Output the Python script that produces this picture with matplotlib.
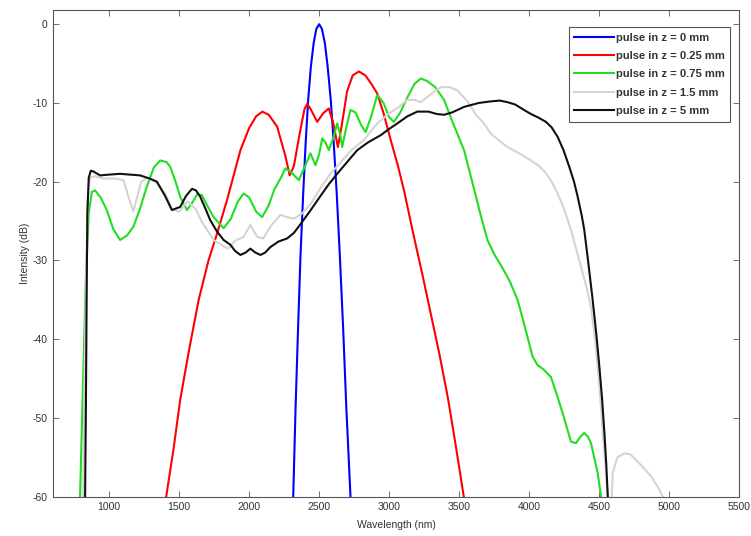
import matplotlib
matplotlib.use("Agg")
import matplotlib.pyplot as plt

plt.rcParams["font.family"] = ["Liberation Sans", "DejaVu Sans"]
plt.rcParams["axes.unicode_minus"] = False

# pulse in z = 0 mm
wl_0 = [2315, 2332, 2350, 2367, 2386, 2404, 2422, 2441, 2461, 2480, 2500,
        2520, 2541, 2561, 2583, 2604, 2626, 2648, 2671, 2694, 2724]
db_0 = [-60, -48.6, -38.4, -29.4, -21.6, -15, -9.6, -5.4, -2.4, -0.6, 0,
        -0.6, -2.4, -5.4, -9.6, -15, -21.6, -29.4, -38.4, -48.6, -60]

# pulse in z = 0.25 mm
wl_025 = [1408, 1460, 1508, 1570, 1640, 1710, 1771, 1843, 1938, 2000, 2050, 2095,
          2140, 2200, 2260, 2290, 2320, 2360, 2395, 2415, 2440, 2486, 2530, 2569,
          2600, 2634, 2660, 2700, 2740, 2784, 2830, 2870, 2915, 2960, 3011, 3060,
          3106, 3177, 3240, 3300, 3360, 3420, 3480, 3533]
db_025 = [-60, -54, -47.7, -41.5, -35, -30, -26.6, -22.3, -16, -13.2, -11.7, -11.1,
          -11.5, -13, -16.8, -19.2, -18, -14, -10.8, -10.1, -10.8, -12.4, -11.3, -10.7,
          -12.5, -15.6, -13, -8.5, -6.5, -6.0, -6.5, -7.5, -8.8, -11.3, -14.7, -17.8,
          -21.1, -27, -32, -37, -42, -47.5, -54, -60]

# pulse in z = 0.75 mm
wl_075 = [793, 815, 835, 855, 877, 900, 940, 984, 1030, 1079, 1130, 1174, 1220,
          1270, 1320, 1365, 1410, 1437, 1475, 1508, 1556, 1600, 1630, 1663, 1700,
          1747, 1818, 1870, 1920, 1961, 2000, 2050, 2093, 2140, 2180, 2224, 2260,
          2300, 2355, 2400, 2438, 2474, 2500, 2522, 2545, 2569, 2600, 2629, 2650,
          2665, 2695, 2724, 2760, 2800, 2832, 2870, 2915, 2960, 3000, 3034, 3080,
          3130, 3180, 3225, 3270, 3330, 3392, 3450, 3535, 3600, 3650, 3702, 3750,
          3798, 3860, 3917, 3970, 4024, 4060, 4100, 4155, 4200, 4239, 4298, 4334,
          4365, 4393, 4420, 4441, 4470, 4489, 4513]
db_075 = [-60, -45, -32, -24, -21.3, -21.1, -22, -23.6, -26, -27.4, -26.8, -25.7, -23.5,
          -20.6, -18.2, -17.3, -17.5, -18.1, -20, -21.9, -23.6, -22.5, -21.6, -21.7, -23,
          -24.5, -25.9, -24.7, -22.5, -21.5, -22, -23.8, -24.5, -23, -21, -19.6, -18.3,
          -18.8, -19.8, -18, -16.4, -17.9, -16.5, -14.5, -15, -16, -14.5, -12.6, -14,
          -15.6, -13, -10.9, -11.2, -12.8, -13.7, -11.8, -9.0, -10, -11.8, -12.4, -11.2,
          -9.3, -7.6, -6.9, -7.2, -8, -9.6, -12.3, -16, -20.5, -24, -27.4, -29.2,
          -30.6, -32.6, -35, -38.5, -42.2, -43.3, -43.8, -44.8, -47.2, -49.4, -53, -53.2,
          -52.4, -51.9, -52.4, -53.2, -55.5, -57, -60]

# pulse in z = 1.5 mm
wl_15 = [815, 825, 838, 850, 865, 900, 960, 1040, 1103, 1140, 1174, 1200, 1230,
         1270, 1330, 1400, 1449, 1500, 1560, 1620, 1660, 1699, 1747, 1800, 1850,
         1900, 1961, 2009, 2057, 2100, 2160, 2224, 2270, 2319, 2380, 2440, 2510,
         2580, 2650, 2730, 2820, 2915, 3000, 3070, 3130, 3180, 3225, 3290, 3368,
         3430, 3487, 3560, 3620, 3677, 3726, 3780, 3845, 3930, 4012, 4070, 4119,
         4160, 4203, 4250, 4298, 4335, 4370, 4410, 4441, 4470, 4489, 4510, 4525,
         4545, 4560, 4572, 4585, 4596, 4630, 4679, 4720, 4751, 4810, 4870, 4920, 4954]
db_15 = [-60, -45, -30, -21.5, -19.5, -19.3, -19.6, -19.6, -19.8, -22, -23.8, -22, -20,
         -19.5, -20, -21.5, -23.5, -23.8, -22.5, -23.5, -25, -26.1, -27.4, -28, -28.5,
         -27.5, -27, -25.5, -27, -27.2, -25.5, -24.2, -24.5, -24.7, -24, -22.8, -20.8,
         -19, -17.6, -16, -14.7, -12.6, -11.3, -10.5, -9.6, -9.6, -9.9, -9, -8,
         -8, -8.4, -9.8, -11.5, -12.6, -13.9, -14.7, -15.6, -16.4, -17.3, -18, -18.9,
         -20, -21.5, -23.5, -26.1, -28.5, -30.8, -33.5, -35.9, -40, -43.5, -48, -51.9,
         -56, -59.6, -62, -62, -57, -55, -54.5, -54.6, -55.1, -56.2, -57.4, -58.8, -60]

# pulse in z = 5 mm
wl_5 = [829, 835, 840, 845, 855, 870, 888, 936, 1000, 1079, 1150, 1222, 1290, 1342,
        1400, 1449, 1508, 1550, 1592, 1620, 1651, 1690, 1723, 1770, 1818, 1866, 1900,
        1938, 1975, 2009, 2045, 2081, 2115, 2152, 2210, 2272, 2320, 2367, 2440, 2510,
        2570, 2629, 2700, 2772, 2850, 2939, 3000, 3058, 3130, 3201, 3280, 3340, 3392,
        3450, 3535, 3640, 3726, 3790, 3845, 3900, 3964, 4012, 4070, 4119, 4160, 4203,
        4245, 4286, 4320, 4346, 4375, 4393, 4420, 4453, 4480, 4501, 4520, 4537, 4550, 4561]
db_5 = [-60, -48, -35, -24, -19.5, -18.6, -18.7, -19.2, -19.1, -19, -19.1, -19.2, -19.6, -20,
        -21.8, -23.6, -23.2, -21.8, -20.9, -21.1, -21.9, -23.5, -24.9, -26.3, -27.4, -28, -28.8,
        -29.3, -29, -28.5, -29, -29.3, -29, -28.3, -27.6, -27.2, -26.5, -25.4, -23.6, -21.8,
        -20.3, -19, -17.5, -16, -15, -14.1, -13.3, -12.6, -11.7, -11.1, -11.1, -11.4, -11.5,
        -11.2, -10.5, -10, -9.8, -9.7, -9.9, -10.2, -10.9, -11.4, -11.9, -12.4, -13.1, -14.3,
        -16, -18.1, -20, -21.9, -24.3, -26.1, -30, -35, -39.5, -43.5, -47.5, -51.9, -55.8, -60]

labels = ["pulse in z = 0 mm", "pulse in z = 0.25 mm", "pulse in z = 0.75 mm",
          "pulse in z = 1.5 mm", "pulse in z = 5 mm"]
colors = ["#0000ff", "#ff0000", "#22dd22", "#d4d4d4", "#111111"]

fig = plt.figure(figsize=(7.51, 5.36), dpi=100)
ax = fig.add_axes([0.0706, 0.0733, 0.9138, 0.908])

series = [(wl_0, db_0), (wl_025, db_025), (wl_075, db_075), (wl_15, db_15), (wl_5, db_5)]
for (wl, db), lab, col in zip(series, labels, colors):
    ax.plot(wl, db, color=col, lw=1.5, label=lab)

ax.set_xlim(600, 5500)
ax.set_ylim(-60, 1.8)
ax.set_xticks(range(1000, 5501, 500))
ax.set_yticks(range(-60, 1, 10))
ax.tick_params(direction="in", top=True, right=True, labelsize=7.5, length=4, width=0.6,
               color="#555555", labelcolor="#333333", pad=4)
for sp in ax.spines.values():
    sp.set_color("#555555")
    sp.set_linewidth(0.8)

ax.set_xlabel("Wavelength (nm)", fontsize=7.5, color="#333333")
ax.set_ylabel("Intensity (dB)", fontsize=7.5, color="#333333")
ax.xaxis.set_label_coords(0.5, -0.047)
ax.yaxis.set_label_coords(-0.034, 0.5)

leg = ax.legend(loc="upper right", bbox_to_anchor=(0.9865, 0.965), borderaxespad=0,
                prop={"size": 8, "weight": "bold"}, handlelength=3.6, handletextpad=0.1,
                labelspacing=0.75, fancybox=False, framealpha=1, borderpad=0.5)
leg.get_frame().set_edgecolor("#555555")
leg.get_frame().set_linewidth(0.8)
for t in leg.get_texts():
    t.set_color("#333333")

fig.savefig("out.png", dpi=100, facecolor="white")
